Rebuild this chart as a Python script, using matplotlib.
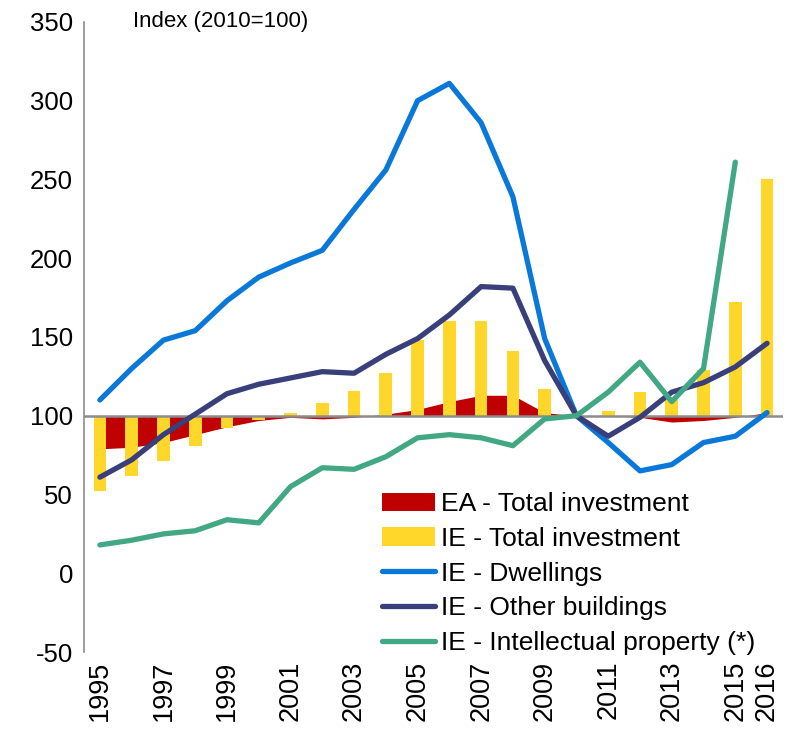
import matplotlib.pyplot as plt
import numpy as np

plt.rcParams['font.family'] = ['Liberation Sans', 'DejaVu Sans']
plt.rcParams['axes.unicode_minus'] = False

years = list(range(1995, 2017))

# EA - Total investment (area around 100)
ea_total = [79, 80, 83, 88, 93, 97, 99, 98, 99, 101, 104, 109, 113, 113, 102,
            100, 100, 99, 96, 97, 99, 102]
# IE - Total investment (bars from 100)
ie_total = [52, 62, 71, 81, 92, 97, 102, 108, 116, 127, 148, 160, 160, 141, 117,
            100, 103, 115, 110, 129, 172, 250]
ie_dwellings = [110, 130, 148, 154, 173, 188, 197, 205, 231, 256, 300, 311, 286, 239, 149,
                100, 83, 65, 69, 83, 87, 102]
ie_other = [61, 72, 88, 101, 114, 120, 124, 128, 127, 139, 149, 164, 182, 181, 135,
            100, 87, 99, 115, 121, 131, 146]
ie_ip = [18, 21, 25, 27, 34, 32, 55, 67, 66, 74, 86, 88, 86, 81, 98,
         100, 115, 134, 109, 130, 261]

tick_years = [1995, 1997, 1999, 2001, 2003, 2005, 2007, 2009, 2011, 2013, 2015, 2016]

c_red = '#C00000'
c_yellow = '#FFD72A'
c_blue = '#0A78D8'
c_navy = '#383F7A'
c_green = '#42A884'

fig = plt.figure(figsize=(7.88, 7.31), dpi=100)
ax = fig.add_axes([0.1066, 0.108, 0.887, 0.862])

h_ea = ax.fill_between(years, 100, ea_total, color=c_red, linewidth=0,
                       label='EA - Total investment', zorder=1)
h_ie = ax.bar(years, np.array(ie_total) - 100, bottom=100, width=0.4, color=c_yellow,
              label='IE - Total investment', zorder=2)
ax.axhline(100, color='#8C8C8C', linewidth=1.8, zorder=2.5)

lw = 3.8
h_dw, = ax.plot(years, ie_dwellings, color=c_blue, lw=lw, solid_capstyle='round',
                solid_joinstyle='round', label='IE - Dwellings', zorder=3)
h_ob, = ax.plot(years, ie_other, color=c_navy, lw=lw, solid_capstyle='round',
                solid_joinstyle='round', label='IE - Other buildings', zorder=3)
h_ip, = ax.plot(years[:len(ie_ip)], ie_ip, color=c_green, lw=lw, solid_capstyle='round',
                solid_joinstyle='round', label='IE - Intellectual property (*)', zorder=3)

ax.set_xlim(1994.5, 2016.5)
ax.set_ylim(-50, 350)
ax.set_yticks(np.arange(-50, 351, 50))
ax.set_xticks(tick_years)
ax.set_xticklabels([str(y) for y in tick_years], rotation=90)
ax.tick_params(axis='both', length=0)
ax.tick_params(axis='y', pad=8, labelsize=18.5)
ax.tick_params(axis='x', pad=6, labelsize=19.5)

for s in ['top', 'right', 'bottom']:
    ax.spines[s].set_visible(False)
ax.spines['left'].set_color('#8C8C8C')
ax.spines['left'].set_linewidth(1.2)

ax.text(0.07, 1.0, 'Index (2010=100)', transform=ax.transAxes, fontsize=16,
        ha='left', va='center')

handles = [h_ea, h_ie, h_dw, h_ob, h_ip]
ax.legend(handles, [h.get_label() for h in handles], loc='upper left',
          bbox_to_anchor=(0.427, 0.254), frameon=False,
          fontsize=19, handlelength=1.98, handletextpad=0.22,
          labelspacing=0.41, borderpad=0, borderaxespad=0)

fig.savefig('out.png', dpi=100)
